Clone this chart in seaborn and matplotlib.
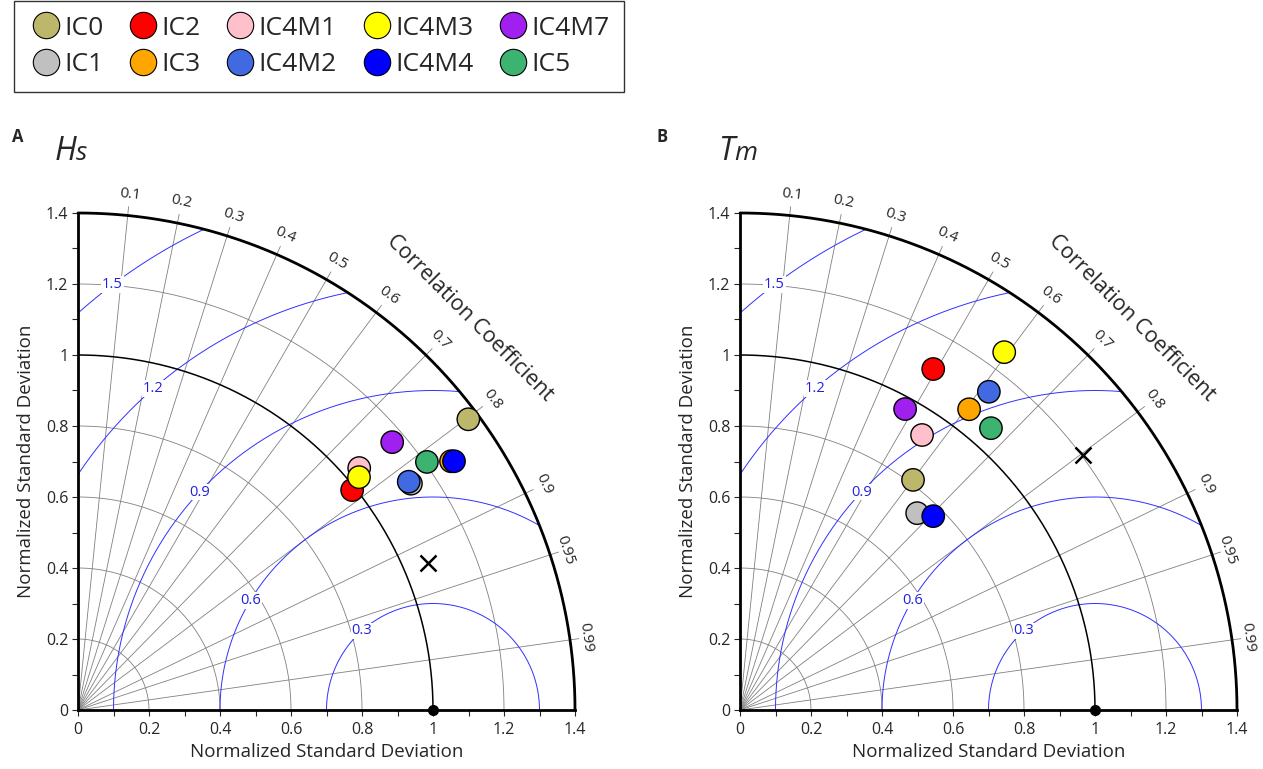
import numpy as np
import pandas as pd
import matplotlib
matplotlib.use("Agg")
import matplotlib.pyplot as plt
from matplotlib.lines import Line2D
import seaborn as sns

models = ["IC0", "IC1", "IC2", "IC3", "IC4M1", "IC4M2", "IC4M3", "IC4M4", "IC4M7", "IC5"]
colors = ["#BDB76B", "#C0C0C0", "#FF0000", "#FFA500", "#FFC0CB",
          "#4169E1", "#FFFF00", "#0000FF", "#A020F0", "#3CB371"]

# normalized std and correlation per run, Hs panel
hs_std = [1.371, 1.134, 0.990, 1.263, 1.045, 1.132, 1.028, 1.270, 1.163, 1.206]
hs_corr = [0.802, 0.827, 0.780, 0.832, 0.758, 0.823, 0.770, 0.834, 0.761, 0.815]
hs_cross = (1.069, 0.922)

# Tm panel
tm_std = [0.811, 0.746, 1.104, 1.065, 0.929, 1.138, 1.253, 0.771, 0.967, 1.063]
tm_corr = [0.601, 0.669, 0.493, 0.606, 0.552, 0.616, 0.594, 0.706, 0.481, 0.665]
tm_cross = (1.204, 0.802)

corr_ticks = [0.1, 0.2, 0.3, 0.4, 0.5, 0.6, 0.7, 0.8, 0.9, 0.95, 0.99]
std_rings = [0.2, 0.4, 0.6, 0.8, 1.0, 1.2]
rms_rings = [0.3, 0.6, 0.9, 1.2, 1.5]
rms_label_angle = [132, 149, 137, 131, 127]
std_ticks = [0, 0.2, 0.4, 0.6, 0.8, 1, 1.2, 1.4]

sns.set_style("white")
plt.rcParams['font.family'] = ['Open Sans', 'DejaVu Sans']

W, H = 1263, 769
fig = plt.figure(figsize=(W / 100, H / 100), dpi=100)


def fx(x):
    return x / W


def fy(y):
    return 1 - y / H


def taylor(ax, std, corr, cross):
    rmax = 1.4
    t = np.linspace(0, np.pi / 2, 300)
    for r in std_rings:
        if r == 1.0:
            ax.plot(r * np.cos(t), r * np.sin(t), color='black', lw=1.1, zorder=2)
        else:
            ax.plot(r * np.cos(t), r * np.sin(t), color='grey', lw=0.6, zorder=1)
    ax.plot(rmax * np.cos(t), rmax * np.sin(t), color='black', lw=2, zorder=3, clip_on=False)

    for c in corr_ticks:
        a = np.arccos(c)
        ax.plot([0, 1.425 * np.cos(a)], [0, 1.425 * np.sin(a)], color='grey', lw=0.6,
                zorder=1, clip_on=False)
        rl = 1.46 if c < 0.95 else 1.445
        ax.text(rl * np.cos(a), rl * np.sin(a), f"{c:g}", rotation=np.degrees(a) - 90,
                ha='center', va='center', fontsize=11, rotation_mode='anchor')

    t2 = np.linspace(0, np.pi, 800)
    for r, ang in zip(rms_rings, rms_label_angle):
        xx = 1 + r * np.cos(t2)
        yy = r * np.sin(t2)
        ok = (xx ** 2 + yy ** 2 <= rmax ** 2) & (xx >= 0)
        ax.plot(np.where(ok, xx, np.nan), yy, color='#3030FF', lw=0.7, zorder=1)
        a = np.radians(ang)
        ax.text(1 + r * np.cos(a), r * np.sin(a), f"{r:g}", color='#2020E0', fontsize=10.5,
                ha='center', va='center', zorder=2,
                bbox=dict(facecolor='white', edgecolor='none', pad=0.5))

    ax.text(1.104, 1.104, "Correlation Coefficient", rotation=-45, ha='center', va='center',
            fontsize=15.5, rotation_mode='anchor')

    std = np.array(std)
    corr = np.array(corr)
    df = pd.DataFrame({'model': models, 'x': std * corr, 'y': std * np.sqrt(1 - corr ** 2)})
    sns.scatterplot(data=df, x='x', y='y', hue='model', hue_order=models,
                    palette=dict(zip(models, colors)), s=260, edgecolor='black',
                    linewidth=1, legend=False, zorder=5, ax=ax)

    cs, cc = cross
    ax.plot(cs * cc, cs * np.sqrt(1 - cc ** 2), marker='x', ms=11, mew=1.8, color='black', zorder=6)
    ax.plot(1, 0, 'o', color='black', ms=7, clip_on=False, zorder=6)

    ax.set_xlim(0, 1.4)
    ax.set_ylim(0, 1.4)
    ax.set_xticks(std_ticks)
    ax.set_yticks(std_ticks)
    ax.set_xticklabels([f"{v:g}" for v in std_ticks])
    ax.set_yticklabels([f"{v:g}" for v in std_ticks])
    ax.set_xticks(np.arange(0.1, 1.4, 0.2), minor=True)
    ax.set_yticks(np.arange(0.1, 1.4, 0.2), minor=True)
    ax.tick_params(which='both', direction='out', length=4, width=0.8, labelsize=11.5,
                   bottom=True, left=True, pad=3)
    ax.tick_params(axis='x', pad=5)
    for s in ['top', 'right']:
        ax.spines[s].set_visible(False)
    for s in ['left', 'bottom']:
        ax.spines[s].set_linewidth(2)
        ax.spines[s].set_color('black')
    ax.set_xlabel("Normalized Standard Deviation", fontsize=13.5, labelpad=3)
    ax.set_ylabel("Normalized Standard Deviation", fontsize=13.5, labelpad=8)
    ax.set_aspect('equal')


ax1 = fig.add_axes([fx(78), fy(710), fx(497), 497 / H])
ax2 = fig.add_axes([fx(740), fy(710), fx(497), 497 / H])
taylor(ax1, hs_std, hs_corr, hs_cross)
taylor(ax2, tm_std, tm_corr, tm_cross)

fig.text(fx(12), fy(142), "A", fontsize=12, weight='bold', va='baseline')
fig.text(fx(55), fy(160), "H", fontsize=23, style='italic', va='baseline')
fig.text(fx(76), fy(160), "s", fontsize=19, style='italic', va='baseline')
fig.text(fx(657), fy(142), "B", fontsize=12, weight='bold', va='baseline')
fig.text(fx(718), fy(160), "T", fontsize=23, style='italic', va='baseline')
fig.text(fx(734), fy(160), "m", fontsize=19, style='italic', va='baseline')

handles = [Line2D([], [], marker='o', ls='', markerfacecolor=c, markeredgecolor='black',
                  markeredgewidth=0.8, markersize=19) for c in colors]
fig.legend(handles, models, ncol=5, loc='upper left', bbox_to_anchor=(fx(14), fy(1)),
           borderaxespad=0, frameon=True, fancybox=False, edgecolor='black', fontsize=19,
           handletextpad=0.05, columnspacing=0.85, borderpad=0.55, labelspacing=0.45,
           handlelength=1.3)

fig.savefig("out.png", dpi=100)
